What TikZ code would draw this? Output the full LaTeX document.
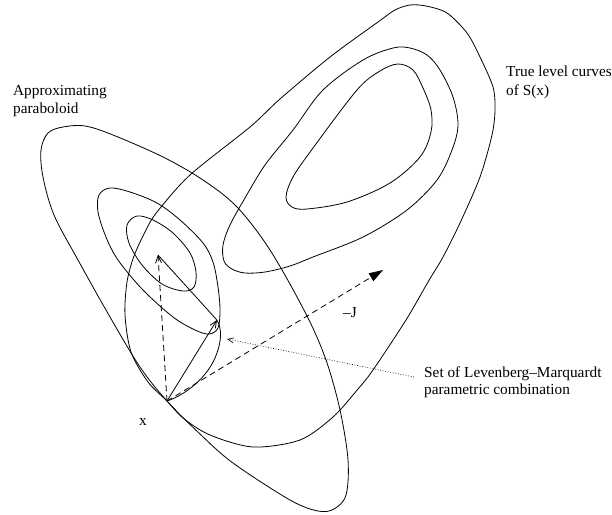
\documentclass[tikz,border=0pt]{standalone}
\usepackage{fontspec}
\setmainfont{Liberation Serif}
\usetikzlibrary{arrows.meta}
\begin{document}
\begin{tikzpicture}[x=1pt,y=-1pt,
  lvl/.style={draw, line width=0.8pt},
  lbl/.style={inner sep=0pt, anchor=base west, font=\fontsize{15.3}{18}\selectfont},
  barb/.style={-{Straight Barb[length=7pt,width=6pt]}},
  dashline/.style={line width=0.8pt, dash pattern=on 6pt off 4pt},
  dotline/.style={line width=0.6pt, dash pattern=on 0.8pt off 1.8pt, -{Straight Barb[length=6pt,width=5pt]}}
]
\useasboundingbox (0,0) rectangle (612,514);

% named points
\coordinate (X) at (167,401);
\coordinate (N) at (158,255);
\coordinate (L) at (217,320);
\coordinate (J) at (383,270);
\coordinate (D) at (414,377);
\coordinate (Dt) at (227,339);

% approximating paraboloid (outer, middle, inner)
\draw[lvl] plot[smooth cycle, tension=0.55] coordinates {
 (63,127) (85,126) (113,135) (163,157) (203,180) (237,207) (270,250) (306,314)
 (326,360) (340,410) (348,460) (346,495) (334,509) (318,511) (290,500) (233,463)
 (200,434) (167,401) (140,367) (110,317) (78,260) (54,215) (43,177) (41,150) (48,133)};
\draw[lvl] plot[smooth cycle, tension=0.55] coordinates {
 (110,188) (130,192) (157,203) (180,220) (203,243) (213,262) (218,287) (220,310)
 (218,328) (209,334) (195,330) (173,317) (143,290) (118,260) (106,237) (98,212) (99,195)};
\draw[lvl] plot[smooth cycle, tension=0.55] coordinates {
 (137,216) (153,220) (173,233) (190,253) (196,272) (194,287) (183,291) (162,284)
 (142,265) (129,243) (127,225)};

% true level curves of S(x)
\draw[lvl] plot[smooth cycle, tension=0.5] coordinates {
 (167,401) (148,382) (131,352) (125,315) (127,282) (134,256) (146,230) (157,212) (190,175)
 (250,127) (280,99) (330,57) (378,22) (395,10) (410,5) (426,6) (447,13) (467,33) (480,57)
 (493,87) (495,110) (492,135) (480,177) (460,223) (443,257) (428,282) (406,320)
 (373,370) (358,389) (333,417) (300,440) (253,447) (210,435) (183,418)};
\draw[lvl] plot[smooth cycle, tension=0.55] coordinates {
 (393,48) (363,60) (323,90) (293,130) (265,165) (245,198) (230,225) (223,245)
 (224,261) (232,269) (245,273) (265,272) (290,266) (313,257) (363,237) (407,210)
 (437,180) (452,150) (458,125) (453,97) (440,70) (427,55) (410,48)};
\draw[lvl] plot[smooth cycle, tension=0.55] coordinates {
 (398,64) (380,71) (357,90) (313,148) (293,177) (286,197) (292,207)
 (307,209) (347,202) (390,183) (420,157) (431,132) (431,110) (423,88) (413,70)};

% Levenberg-Marquardt curve
\draw[lvl] (N) -- (216,319) .. controls (223,327) and (222,346) .. (212,364)
  .. controls (201,383) and (182,396) .. (X);

% arrows
\draw[dashline, barb] (X) -- (N);
\draw[line width=0.8pt, barb] (X) -- (L);
\draw[dashline, -{Triangle[length=14pt,width=9pt]}] (X) -- (J);
\draw[dotline] (D) -- (Dt);

% labels
\node[lbl] (t1) at (13,95) {Approximating};
\node[lbl] (t2) at (13,113) {paraboloid};
\node[lbl] (t3) at (506,76) {True level curves};
\node[lbl] (t4) at (506,95) {of S(x)};
\node[lbl] (t5) at (424,377) {Set of Levenberg--Marquardt};
\node[lbl] (t6) at (424,394) {parametric combination};
\node[lbl] (tx) at (139,425) {x};
\node[lbl] (tj) at (343,317) {--J};
\end{tikzpicture}
\end{document}
